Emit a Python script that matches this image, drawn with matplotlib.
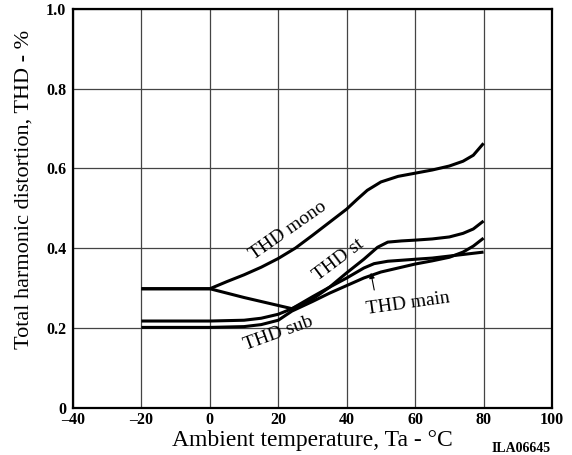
import matplotlib
matplotlib.use("Agg")
from matplotlib import pyplot as plt

plt.rcParams['font.family'] = ['Liberation Serif', 'DejaVu Serif']

x_ticks = [-40, -20, 0, 20, 40, 60, 80, 100]
x_tick_labels = ['\u201340', '\u201320', '0', '20', '40', '60', '80', '100']
y_ticks = [0, 0.2, 0.4, 0.6, 0.8, 1.0]
y_tick_labels = ['0', '0.2', '0.4', '0.6', '0.8', '1.0']

t_mono = [-20, 0, 5, 10, 15, 20, 25, 30, 35, 40, 43, 46, 50, 55, 60, 65, 70, 74, 77, 80]
thd_mono = [0.298, 0.298, 0.316, 0.333, 0.352, 0.374, 0.4, 0.432, 0.465, 0.498,
            0.522, 0.545, 0.566, 0.58, 0.588, 0.596, 0.606, 0.618, 0.633, 0.663]

t_st = [-20, 0, 10, 20, 24, 30, 35, 40, 45, 49, 52, 56, 60, 65, 70, 74, 77, 80]
thd_st = [0.298, 0.298, 0.276, 0.256, 0.248, 0.272, 0.302, 0.338, 0.372, 0.402,
          0.415, 0.418, 0.42, 0.423, 0.428, 0.437, 0.448, 0.468]

t_main = [-20, 0, 10, 15, 20, 24, 30, 35, 40, 45, 48, 52, 60, 65, 70, 75, 78, 80]
thd_main = [0.217, 0.217, 0.219, 0.224, 0.234, 0.248, 0.278, 0.302, 0.325, 0.350,
            0.361, 0.367, 0.372, 0.375, 0.38, 0.385, 0.388, 0.39]

t_sub = [-20, 0, 10, 15, 20, 24, 30, 35, 40, 45, 50, 55, 60, 65, 70, 74, 77, 80]
thd_sub = [0.201, 0.201, 0.203, 0.208, 0.219, 0.242, 0.266, 0.287, 0.306, 0.325,
           0.34, 0.35, 0.36, 0.368, 0.377, 0.39, 0.405, 0.425]


def plot_thd():
    fig = plt.figure(figsize=(5.72, 4.55), dpi=100)
    ax = fig.add_axes([73 / 572, 1 - 407.5 / 455, 479 / 572, 398.5 / 455])

    for t, v in [(t_mono, thd_mono), (t_st, thd_st), (t_main, thd_main), (t_sub, thd_sub)]:
        ax.plot(t, v, '-k', linewidth=2.2, solid_capstyle='butt')

    ax.set_xlim(-40, 100)
    ax.set_ylim(0, 1.0)
    ax.set_xticks(x_ticks)
    ax.set_xticklabels(x_tick_labels, fontweight='bold', fontsize=11.5)
    ax.set_yticks(y_ticks)
    ax.set_yticklabels(y_tick_labels, fontweight='bold', fontsize=11.5)
    ax.tick_params(axis='x', length=0, pad=3)
    ax.tick_params(axis='y', length=0, pad=5)
    ax.grid(True, color='#444444', linewidth=0.9)
    for s in ax.spines.values():
        s.set_linewidth(1.6)

    ax.set_xlabel('Ambient temperature, Ta - \u00b0C', fontsize=17)
    ax.xaxis.set_label_coords(0.5, -0.056)
    ax.set_ylabel('Total harmonic distortion, THD - %', fontsize=16)
    ax.yaxis.set_label_coords(-0.083, 0.548)

    ax.text(23, 0.445, 'THD mono', rotation=35, fontsize=14, ha='center', va='center')
    ax.text(37.5, 0.37, 'THD st', rotation=37, fontsize=14, ha='center', va='center')
    ax.text(20, 0.185, 'THD sub', rotation=20, fontsize=14, ha='center', va='center')
    ax.text(57.8, 0.26, 'THD main', rotation=8, fontsize=14, ha='center', va='center')
    ax.annotate('', xy=(46.9, 0.345), xytext=(48.2, 0.288),
                arrowprops=dict(arrowstyle='-|>', color='k', lw=0.8, mutation_scale=8))

    fig.text(551 / 572, 1 - 448 / 455, 'ILA06645', fontweight='bold', fontsize=10,
             ha='right', va='center')

    fig.savefig('out.png', dpi=100)


if __name__ == "__main__":
    plot_thd()
